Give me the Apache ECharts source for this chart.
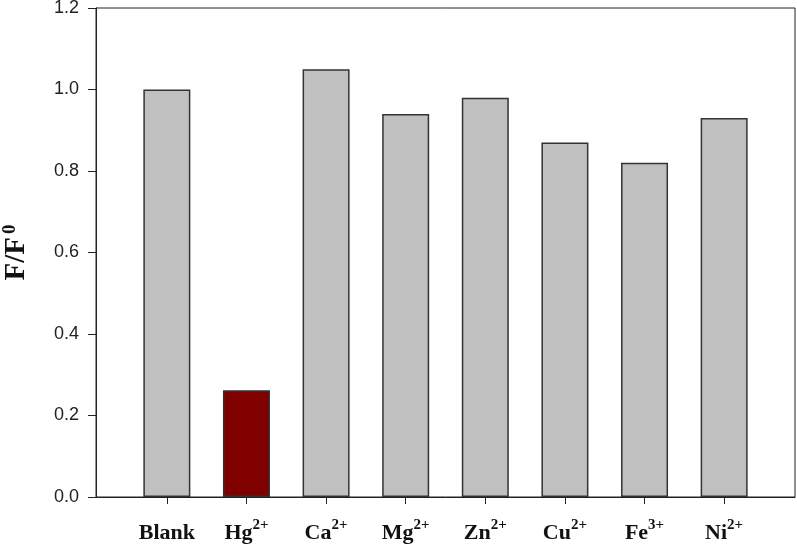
<!DOCTYPE html>
<html>
<head>
<meta charset="utf-8">
<script src="https://cdn.jsdelivr.net/npm/echarts@6/dist/echarts.min.js"></script>
<style>
  html, body { margin: 0; padding: 0; background: #fff; }
  #chart { width: 797px; height: 548px; }
</style>
</head>
<body>
<div id="chart"></div>
<script>
// categories: [main text, superscript]
const ions = [['Blank', ''], ['Hg', '2+'], ['Ca', '2+'], ['Mg', '2+'], ['Zn', '2+'], ['Cu', '2+'], ['Fe', '3+'], ['Ni', '2+']]
const ratio = [1.0, 0.262, 1.05, 0.94, 0.98, 0.87, 0.82, 0.93]
const barColors = ['#c0c0c0', '#800000', '#c0c0c0', '#c0c0c0', '#c0c0c0', '#c0c0c0', '#c0c0c0', '#c0c0c0']
const yTicks = [0, 0.2, 0.4, 0.6, 0.8, 1.0, 1.2]
const xPos = [1, 2, 3, 4, 5, 6, 7, 8]

const chart = echarts.init(document.getElementById('chart'))

const serif = '"Liberation Serif", "Times New Roman", serif'

chart.setOption({
  animation: false,
  backgroundColor: '#fff',
  grid: {
    left: 96, right: 2, top: 8, bottom: 51,
    outerBoundsMode: 'none',
    containLabel: false,
    show: true, borderColor: '#222', borderWidth: 1
  },
  xAxis: {
    type: 'value',
    min: 0.11,
    max: 8.89,
    splitLine: { show: false },
    axisLine: { show: true, onZero: false, lineStyle: { color: '#222', width: 1 } },
    axisTick: { show: true, length: 7, inside: false, customValues: xPos, lineStyle: { color: '#222' } },
    axisLabel: {
      customValues: xPos,
      margin: 21,
      formatter: function (v) {
        const c = ions[Math.round(v) - 1]
        if (!c) return ''
        return c[1] ? '{b|' + c[0] + '}{s|' + c[1] + '}' : '{b|' + c[0] + '}'
      },
      rich: {
        b: { fontFamily: serif, fontWeight: 'bold', fontSize: 22, color: '#111', verticalAlign: 'bottom', lineHeight: 26 },
        s: { fontFamily: serif, fontWeight: 'bold', fontSize: 15, color: '#111', verticalAlign: 'top', lineHeight: 26, padding: [0, 0, 12, 0] }
      }
    }
  },
  yAxis: {
    type: 'value',
    min: 0,
    max: 1.2,
    interval: 0.2,
    splitLine: { show: false },
    axisLine: { show: true, lineStyle: { color: '#222', width: 1 } },
    axisTick: { show: true, length: 8, lineStyle: { color: '#222' } },
    axisLabel: {
      margin: 17,
      color: '#222',
      fontFamily: 'Arial, "Liberation Sans", sans-serif',
      fontSize: 18,
      formatter: function (v) { return v.toFixed(1) }
    },
    name: 'F/F{s|0}',
    nameLocation: 'middle',
    nameGap: 63,
    nameRotate: 90,
    nameTextStyle: {
      fontFamily: serif, fontWeight: 'bold', fontSize: 29, color: '#111',
      rich: {
        s: { fontFamily: serif, fontWeight: 'bold', fontSize: 19, color: '#111', verticalAlign: 'top', padding: [0, 0, 13, 3] }
      }
    }
  },
  series: [{
    type: 'bar',
    barWidth: 47,
    data: ratio.map(function (v, i) {
      return {
        value: [xPos[i], v],
        itemStyle: { color: barColors[i], borderColor: '#333', borderWidth: 1.5 }
      }
    })
  }]
})
</script>
</body>
</html>
